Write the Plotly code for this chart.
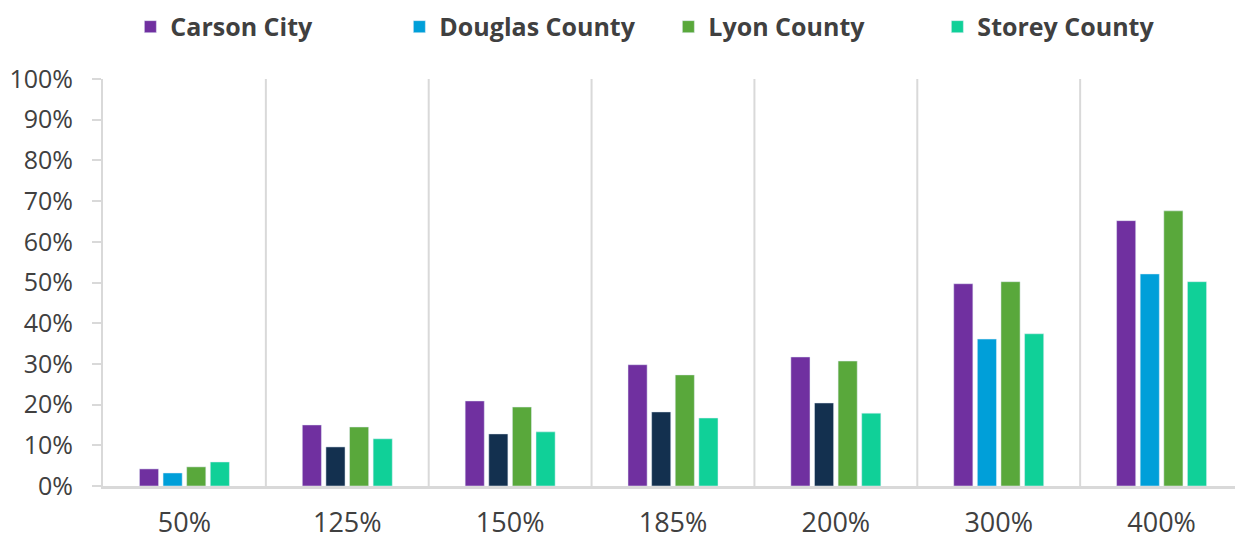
import plotly.graph_objects as go

categories = ["50%", "125%", "150%", "185%", "200%", "300%", "400%"]
carson = [0.042, 0.150, 0.209, 0.298, 0.317, 0.497, 0.652]
douglas = [0.032, 0.096, 0.128, 0.182, 0.204, 0.361, 0.521]
lyon = [0.047, 0.145, 0.194, 0.273, 0.307, 0.502, 0.676]
storey = [0.059, 0.116, 0.133, 0.167, 0.179, 0.374, 0.502]
y_ticks = [i / 10 for i in range(11)]

douglas_colors = ["#009FD9", "#13304F", "#13304F", "#13304F", "#13304F", "#009FD9", "#009FD9"]

fig = go.Figure()
fig.add_bar(x=categories, y=carson, name="Carson City", marker_color="#7030A0")
fig.add_bar(x=categories, y=douglas, name="Douglas County", marker_color=douglas_colors)
fig.add_bar(x=categories, y=lyon, name="Lyon County", marker_color="#59A83B")
fig.add_bar(x=categories, y=storey, name="Storey County", marker_color="#10D098")

# category separators
for i in range(len(categories)):
    fig.add_shape(type="line", xref="x", yref="paper", x0=i + 0.5, x1=i + 0.5, y0=0, y1=1,
                  line=dict(color="#D9D9D9", width=2), layer="below")

fig.update_layout(
    width=1235, height=534,
    margin=dict(l=95, r=0, t=71, b=56, autoexpand=False),
    plot_bgcolor="white", paper_bgcolor="white",
    barmode="group", bargap=0.42, bargroupgap=0.19,
    font=dict(family="Open Sans", color="#404040"),
    legend=dict(orientation="h", x=0.024, xanchor="left", y=1.128, yanchor="middle",
                font=dict(size=25, color="#404040", family="Open Sans", weight="bold"),
                itemwidth=30, entrywidth=224, traceorder="normal"),
    xaxis=dict(showline=True, linecolor="#D9D9D9", linewidth=3, ticks="",
               tickfont=dict(size=27, color="#404040"), showgrid=False,
               ticklabelstandoff=11,
               range=[-0.5, len(categories) - 0.5]),
    yaxis=dict(range=[0, 1], tickvals=y_ticks, tickformat=".0%", showgrid=False,
               showline=True, linecolor="#D9D9D9", linewidth=2, ticks="outside",
               ticklen=9, tickcolor="#D9D9D9", tickwidth=2, ticklabelstandoff=14,
               tickfont=dict(size=25, color="#404040"), zeroline=False),
)

fig.write_html("out.html")
